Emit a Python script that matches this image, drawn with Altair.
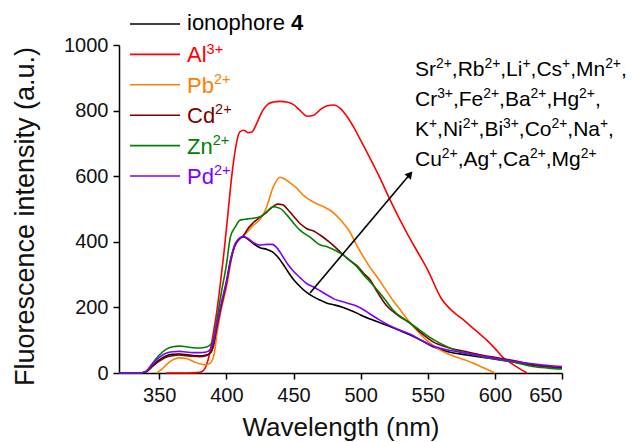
import altair as alt
import pandas as pd

# ---------------- data ----------------
wl_iono = [320,335,340,345,350,355,360,365,370,375,380,385,388,390,393,396,400,403,406,410,413,416,420,425,430,434,438,442,446,450,455,460,465,470,475,480,487,495,500,510,519,530,537,545,554,565,579,590,604,615,628,640,650]
val_iono = [0,0,4,22,40,52,57,58,56,53,52,55,62,80,141,200,274,340,385,410,415,408,395,382,377,370,355,333,308,285,263,245,232,222,213,208,200,187,177,160,146,128,116,100,80,65,55,48,40,33,24,19,15]

wl_al = [355,360,370,380,383,386,388,391,393,396,398,401,404,407,410,413,416,419,423,427,431,435,440,445,450,455,460,465,470,475,480,485,490,495,500,507,514,522,534,542,550,560,568,575,585,594,600,606,612,618,624]
val_al = [0,0,0,2,8,35,70,140,192,290,360,480,600,690,735,740,733,735,765,800,820,826,828,826,818,800,783,786,803,815,817,806,781,748,710,655,598,527,430,372,314,228,190,167,132,100,75,48,30,14,0]

wl_pb = [348,352,356,360,365,370,375,380,385,388,391,393,396,400,403,406,410,413,416,420,423,427,430,435,440,444,448,452,457,462,467,472,477,482,487,492,497,502,507,512,518,524,530,537,543,549,556,564,574,584,592,600]
val_pb = [0,12,28,40,46,44,36,28,25,30,60,121,190,260,330,390,410,420,432,450,460,480,507,568,597,590,578,565,543,528,517,508,497,480,457,430,390,355,322,294,258,222,190,152,125,100,78,60,45,30,15,0]

wl_cd = [320,335,340,345,350,355,360,365,370,375,380,385,388,390,393,396,400,403,406,410,413,416,420,425,430,434,438,442,446,450,455,460,465,470,477,482,487,492,497,502,507,512,519,528,537,545,554,565,579,590,604,615,628,640,650]
val_cd = [0,0,3,20,36,48,53,55,53,51,50,53,60,78,140,200,272,338,385,410,420,440,458,475,490,505,515,513,497,478,455,440,433,420,398,380,360,343,328,305,284,250,207,175,152,122,95,78,65,55,45,37,25,19,15]

wl_zn = [320,335,340,345,350,355,360,365,370,375,380,385,388,390,393,396,400,403,407,410,413,416,420,426,430,435,440,445,450,455,462,470,475,482,487,492,497,502,507,513,518,524,534,544,551,559,569,579,590,604,615,628,640,650]
val_zn = [0,0,5,30,55,72,80,82,80,77,76,79,86,100,165,240,330,415,448,466,468,470,472,478,492,507,502,482,457,435,415,390,385,372,360,343,325,300,278,250,225,192,160,131,110,91,72,60,50,40,32,20,15,12]

wl_pd = [320,335,340,345,350,355,360,365,370,375,380,385,388,390,393,396,400,403,406,410,413,416,420,425,430,434,438,442,446,450,455,460,465,470,475,480,487,495,500,507,514,521,529,537,545,554,565,579,590,604,615,628,640,650]
val_pd = [0,0,5,28,48,60,65,66,64,62,62,64,72,92,150,210,280,345,388,412,416,410,398,390,392,392,380,355,330,310,290,272,262,250,238,226,217,207,198,180,162,146,131,118,100,82,70,60,52,42,35,28,23,20]

series_keys = ["iono", "Al", "Pb", "Cd", "Zn", "Pd"]
# '^...^' marks a superscript, '*...*' marks bold
series_labels = ["ionophore *4*", "Al^3+^", "Pb^2+^", "Cd^2+^", "Zn^2+^", "Pd^2+^"]
series_colors = ["#000000", "#ff0000", "#ff8000", "#800000", "#008000", "#8000ff"]

annotation_lines = [
    "Sr^2+^,Rb^2+^,Li^+^,Cs^+^,Mn^2+^,",
    "Cr^3+^,Fe^2+^,Ba^2+^,Hg^2+^,",
    "K^+^,Ni^2+^,Bi^3+^,Co^2+^,Na^+^,",
    "Cu^2+^,Ag^+^,Ca^2+^,Mg^2+^",
]

x_ticks = [350, 400, 450, 500, 550, 600, 650]
y_ticks = [0, 200, 400, 600, 800, 1000]

# ---------------- helpers ----------------
FONT = "Liberation Sans"
# Arial / Liberation Sans advance widths (per 1000 em)
ADV = {" ": 278, ",": 278, ".": 278, "+": 584, "(": 333, ")": 333}
ADV.update({d: 556 for d in "0123456789"})
ADV.update(dict(zip("ABCDEFGHIJKLMNOPQRSTUVWXYZ",
                    [667,667,722,722,667,611,778,722,278,500,667,556,833,722,778,667,778,722,667,611,722,667,944,667,667,611])))
ADV.update(dict(zip("abcdefghijklmnopqrstuvwxyz",
                    [556,556,500,556,556,278,556,556,222,222,500,222,833,556,556,556,556,333,500,278,556,500,722,500,500,500])))


def text_width(s, size):
    return sum(ADV.get(c, 556) for c in s) * size / 1000.0


def rich_runs(markup, x0, y0, size, color, sup_scale=0.66, sup_rise=0.40):
    """Split a marked-up label into text runs with their own offsets."""
    out = []
    x = x0
    mode = "n"
    buf = ""

    def flush(buf, mode, x):
        if not buf:
            return x
        fs = size * sup_scale if mode == "sup" else size
        y = y0 - size * sup_rise if mode == "sup" else y0
        out.append({"text": buf, "px": x, "py": y, "fs": fs,
                    "fw": "bold" if mode == "b" else "normal", "color": color})
        return x + text_width(buf, fs)

    for c in markup:
        if c == "^":
            x = flush(buf, mode, x)
            buf = ""
            mode = "n" if mode == "sup" else "sup"
        elif c == "*":
            x = flush(buf, mode, x)
            buf = ""
            mode = "n" if mode == "b" else "b"
        else:
            buf += c
    flush(buf, mode, x)
    return out


# ---------------- tables ----------------
pairs = [(wl_iono, val_iono), (wl_al, val_al), (wl_pb, val_pb),
         (wl_cd, val_cd), (wl_zn, val_zn), (wl_pd, val_pd)]
rows = []
for k, (w, v) in zip(series_keys, pairs):
    for a, b in zip(w, v):
        rows.append({"series": k, "wl": a, "val": b})
df = pd.DataFrame(rows)

W, H = 443, 328

# legend: pixel positions relative to the plot area, computed from the row index
LEG_TOP, LEG_STEP, LEG_FS = -21, 30.4, 22
leg = pd.DataFrame({"series": series_keys, "color": series_colors})
leg["ly"] = [LEG_TOP + i * LEG_STEP for i in range(len(leg))]
leg_runs = []
for i, (lab, col) in enumerate(zip(series_labels, series_colors)):
    base_y = LEG_TOP + i * LEG_STEP + (6 if i == 0 else 8)
    leg_runs += rich_runs(lab, 68, base_y, LEG_FS, col)
ann_runs = []
for i, line in enumerate(annotation_lines):
    ann_runs += rich_runs(line, 296, 31 + 30 * i, 21, "#000000")
text_df = pd.DataFrame(leg_runs + ann_runs)

arrow = pd.DataFrame({"wl": [462.3], "val": [243.9], "wl2": [537.5], "val2": [610.0]})
head = pd.DataFrame({"wl": [536.8], "val": [606.0]})

xscale = alt.Scale(domain=[320, 650], nice=False, zero=False)
yscale = alt.Scale(domain=[0, 1000], nice=False)

lines = alt.Chart(df).mark_line(strokeWidth=1.6, interpolate="monotone").encode(
    x=alt.X("wl:Q", scale=xscale,
            axis=alt.Axis(values=x_ticks, title="Wavelength (nm)", grid=False, format="d",
                          titleBaseline="alphabetic", titleY=62, titleFontSize=26,
                          labelPadding=6)),
    y=alt.Y("val:Q", scale=yscale,
            axis=alt.Axis(values=y_ticks, title="Fluorescence intensity (a.u.)", grid=False, format="d",
                          titleBaseline="alphabetic", titleX=-86, titleY=171,
                          titleFontSize=27, labelPadding=5)),
    color=alt.Color("series:N", scale=alt.Scale(domain=series_keys, range=series_colors), legend=None),
    order=alt.Order("series:N"),
)

arrow_line = alt.Chart(arrow).mark_rule(color="black", strokeWidth=1.6).encode(
    x="wl:Q", y="val:Q", x2="wl2:Q", y2="val2:Q"
)
arrow_head = alt.Chart(head).mark_point(shape="triangle-up", filled=True, color="black",
                                        size=70, angle=40, opacity=1).encode(
    x="wl:Q", y="val:Q"
)

leg_rules = alt.Chart(leg).mark_rule(strokeWidth=1.6).encode(
    x=alt.value(11), x2=alt.value(61),
    y=alt.Y("ly:Q", scale=None, axis=None),
    color=alt.Color("color:N", scale=None),
)

texts_normal = alt.Chart(text_df).transform_filter("datum.fw == 'normal'").mark_text(
    align="left", baseline="alphabetic", font=FONT).encode(
    x=alt.X("px:Q", scale=None, axis=None),
    y=alt.Y("py:Q", scale=None, axis=None),
    size=alt.Size("fs:Q", scale=None),
    text="text:N",
    color=alt.Color("color:N", scale=None),
)
texts_bold = alt.Chart(text_df).transform_filter("datum.fw == 'bold'").mark_text(
    align="left", baseline="alphabetic", font=FONT, fontWeight="bold").encode(
    x=alt.X("px:Q", scale=None, axis=None),
    y=alt.Y("py:Q", scale=None, axis=None),
    size=alt.Size("fs:Q", scale=None),
    text="text:N",
    color=alt.Color("color:N", scale=None),
)

chart = alt.layer(lines, arrow_line, arrow_head, leg_rules, texts_normal, texts_bold).properties(
    width=W, height=H,
    autosize=alt.AutoSizeParams(type="none"),
    padding={"left": 119, "top": 45, "right": 632 - 119 - W, "bottom": 442 - 45 - H},
    background="white",
).configure_view(stroke=None).configure_axis(
    domainColor="black", domainWidth=1.5, tickColor="black", tickWidth=1.5, tickSize=6,
    labelFont=FONT, labelFontSize=20, labelColor="#111111",
    titleFont=FONT, titleFontWeight="normal", titleColor="#111111",
)

chart.save("out.html", embed_options={"renderer": "svg", "actions": False})
